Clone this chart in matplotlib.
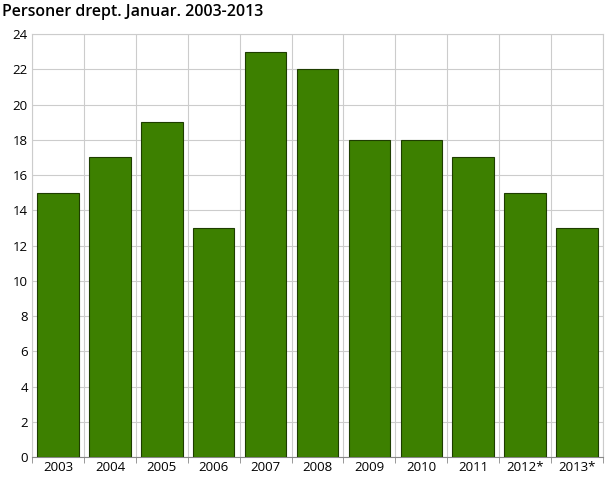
import matplotlib
matplotlib.use("Agg")
import matplotlib.pyplot as plt
import numpy as np

# ---- data ----
years = ["2003", "2004", "2005", "2006", "2007", "2008", "2009", "2010", "2011", "2012*", "2013*"]
killed = [15, 17, 19, 13, 23, 22, 18, 18, 17, 15, 13]
title = "Personer drept. Januar. 2003-2013"

plt.rcParams["font.family"] = ["Open Sans", "DejaVu Sans"]

fig = plt.figure(figsize=(6.1, 4.88), dpi=100)
ax = fig.add_axes([0.0525, 0.0635, 0.936, 0.8665])

x = np.arange(len(years))
ax.bar(x, killed, width=0.8, color="#3d8000", edgecolor="#1e3d00", linewidth=0.8, zorder=3)

ax.set_xlim(-0.5, len(years) - 0.5)
ax.set_ylim(0, 24)
ax.set_yticks(range(0, 25, 2))
ax.set_xticks(x)
ax.set_xticklabels(years)
ax.set_xticks(np.arange(-0.5, len(years)), minor=True)
ax.tick_params(axis="x", which="major", length=0, labelsize=9.5, pad=3)
ax.tick_params(axis="x", which="minor", length=4, color="#888888")
ax.tick_params(axis="y", length=0, labelsize=9.5, pad=3)

ax.grid(axis="y", color="#cccccc", linewidth=0.8, zorder=0)
ax.grid(axis="x", which="minor", color="#cccccc", linewidth=0.8, zorder=0)
ax.grid(axis="x", which="major", visible=False)
for side in ["top", "right", "left"]:
    ax.spines[side].set_color("#cccccc")
ax.spines["bottom"].set_color("#888888")

fig.text(0.003, 0.975, title, fontsize=11.5, fontweight="semibold", va="center", ha="left")

fig.savefig("out.png", dpi=100)
